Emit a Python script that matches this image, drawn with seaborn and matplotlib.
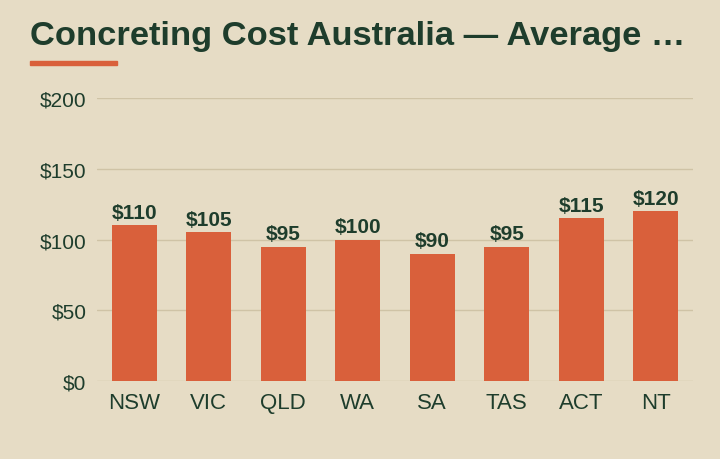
import matplotlib
matplotlib.use("Agg")
import matplotlib.pyplot as plt
import seaborn as sns
import pandas as pd

# data
states = ["NSW", "VIC", "QLD", "WA", "SA", "TAS", "ACT", "NT"]
cost_per_m2 = [110, 105, 95, 100, 90, 95, 115, 120]
y_ticks = [0, 50, 100, 150, 200]

BG = "#E6DCC5"
BAR = "#D9603B"
INK = "#1E3D2C"
GRID = "#CFC3A6"

sns.set_theme(style="white")
plt.rcParams["font.family"] = ["Liberation Sans", "DejaVu Sans"]

df = pd.DataFrame({"state": states, "cost": cost_per_m2})

fig = plt.figure(figsize=(7.2, 4.6), dpi=100, facecolor=BG)
ax = fig.add_axes([0.1347, 0.1696, 0.8278, 0.6150])
ax.set_facecolor(BG)

sns.barplot(data=df, x="state", y="cost", color=BAR, saturation=1,
            width=0.6, linewidth=0, ax=ax, zorder=3)

ax.set_ylim(0, 200)
ax.set_yticks(y_ticks)
ax.set_yticklabels([f"${v}" for v in y_ticks])
ax.grid(axis="y", color=GRID, linewidth=1, zorder=0)
ax.set_axisbelow(True)
for s in ax.spines.values():
    s.set_visible(False)
ax.tick_params(axis="y", length=0, pad=7.5, labelsize=15, labelcolor=INK)
ax.tick_params(axis="x", length=0, pad=8, labelsize=16, labelcolor=INK)
ax.set_xlabel("")
ax.set_ylabel("")

for i, v in enumerate(cost_per_m2):
    ax.annotate(f"${v}", (i, v), xytext=(0, 2.5), textcoords="offset points",
                ha="center", va="bottom", fontsize=15, fontweight="bold", color=INK)

fig.text(30 / 720, 1 - 36 / 460, "Concreting Cost Australia \u2014 Average \u2026",
         ha="left", va="center", fontsize=24.8, fontweight="bold", color=INK)
fig.patches.append(plt.Rectangle((30 / 720, 1 - 66 / 460), 87 / 720, 4 / 460,
                                 transform=fig.transFigure, color=BAR))

fig.savefig("out.png", dpi=100, facecolor=BG)
